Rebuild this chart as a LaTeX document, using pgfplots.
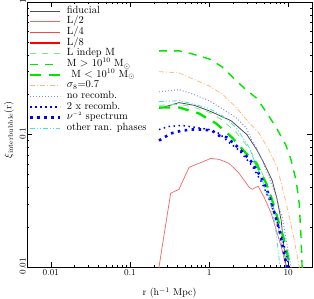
\documentclass[border=0pt]{standalone}
\usepackage{pgfplots}
\pgfplotsset{compat=1.18}
\definecolor{fidc}{RGB}{80,80,80}
\definecolor{lred}{RGB}{245,100,100}
\definecolor{mred}{RGB}{250,70,70}
\definecolor{dred}{RGB}{255,0,0}
\definecolor{lgreen}{RGB}{120,235,120}
\definecolor{mgreen}{RGB}{0,230,0}
\definecolor{lorange}{RGB}{255,185,135}
\definecolor{lblue}{RGB}{130,130,255}
\definecolor{mblue}{RGB}{0,0,255}
\definecolor{lcyan}{RGB}{70,225,225}
\begin{document}
\begin{tikzpicture}
\path[use as bounding box] (-27bp,-32bp) rectangle (287bp,267bp);
\begin{axis}[
  scale only axis, width=285bp, height=265bp,
  xmode=log, ymode=log,
  xmin=0.005, xmax=20, ymin=0.01, ymax=1,
  xtick={0.01,0.1,1,10}, xticklabels={0.01,0.1,1,10},
  ytick={0.01,0.1,1}, yticklabels={0.01,0.1,1},
  tick align=inside, tick pos=both,
  major tick length=5bp, minor tick length=2.5bp,
  every tick/.style={black, line width=0.4pt},
  axis line style={line width=0.5pt},
  tick label style={font=\fontsize{9}{9}\selectfont},
  yticklabel style={rotate=90, anchor=south, inner sep=1bp, xshift=1bp},
  xticklabel style={inner sep=2bp},
  xlabel={r (h$^{-1}$ Mpc)},
  xlabel style={font=\fontsize{10}{10}\selectfont, at={(rel axis cs:0.5,0)}, anchor=center, yshift=-26bp},
  legend cell align=left,
  legend style={draw=none, fill=none, at={(rel axis cs:0,1)}, anchor=north west,
    xshift=2bp, yshift=-3.5bp, inner sep=0pt, row sep=0pt, column sep=5bp,
    font=\fontsize{10.5}{10.5}\selectfont,
    nodes={inner sep=0pt, text height=7.5bp, text depth=3.17bp}},
  legend image code/.code={\draw[#1] (0bp,0bp) -- (30bp,0bp);},
]
% fiducial
\addplot[fidc, line width=0.8bp] coordinates {
(0.233,0.157)(0.417,0.174)(0.65,0.166)(1,0.151)(1.9,0.127)(3,0.100)(4.05,0.076)(5,0.060)(6.27,0.045)(7.2,0.033)(8.15,0.0225)(9.4,0.01)(9.8,0.008)};
\addlegendentry{fiducial}
% L/2
\addplot[lred, line width=0.7bp] coordinates {
(0.22,0.007)(0.233,0.01)(0.327,0.036)(0.417,0.0386)(0.558,0.0565)(0.747,0.0606)(1.05,0.066)(1.34,0.0649)(1.79,0.0606)(2.40,0.0509)(3.21,0.040)(3.5,0.0386)(4.17,0.0407)(4.97,0.0336)(6.09,0.0255)(7.26,0.018)(8.4,0.0134)(9.4,0.01)(9.8,0.008)};
\addlegendentry{L/2}
\addlegendimage{mred, line width=1.6bp}
\addlegendentry{L/4}
\addlegendimage{dred, line width=2.4bp}
\addlegendentry{L/8}
% L indep M
\addplot[lgreen, line width=0.8bp, dash pattern=on 6bp off 6bp] coordinates {
(0.233,0.166)(0.417,0.169)(0.61,0.162)(1,0.147)(1.46,0.129)(2.2,0.104)(3.21,0.078)(4.29,0.058)(5.74,0.038)(7.26,0.022)(8.4,0.014)(9.6,0.01)(10,0.008)};
\addlegendentry{L indep M}
% M > 1e10
\addplot[mgreen, line width=1.4bp, dash pattern=on 8bp off 7bp] coordinates {
(0.233,0.428)(0.417,0.428)(0.61,0.406)(1,0.372)(1.46,0.324)(2.2,0.255)(3.03,0.214)(4.05,0.187)(5.42,0.144)(7.05,0.113)(9.4,0.0826)(10.9,0.0638)(12.6,0.045)(13.8,0.030)(14.6,0.016)(15,0.01)(15.2,0.008)};
\addlegendentry{M $>$ 10$^{10}$ M$_\odot$}
% M < 1e10
\addplot[mgreen, line width=2.3bp, dash pattern=on 11bp off 8bp] coordinates {
(0.233,0.160)(0.417,0.160)(0.747,0.144)(1.23,0.121)(1.95,0.095)(2.94,0.072)(3.94,0.0606)(5.27,0.0429)(6.27,0.032)(7.26,0.0238)(8.9,0.016)(10.6,0.01)(11,0.008)};
\addlegendentry{\hspace{4.5bp}M $<$ 10$^{10}$ M$_\odot$}
% sigma8
\addplot[lorange, line width=0.8bp, dash pattern=on 5bp off 2bp on 1bp off 2bp] coordinates {
(0.233,0.298)(0.417,0.292)(0.61,0.264)(1,0.233)(1.46,0.203)(2.2,0.160)(3.21,0.123)(4.29,0.102)(5.74,0.076)(7.26,0.0565)(8.4,0.040)(9.7,0.0282)(11.6,0.0174)(13.8,0.01)(14.2,0.008)};
\addlegendentry{$\sigma_8$=0.7}
% no recomb
\addplot[lblue, line width=0.9bp, dash pattern=on 1bp off 2bp] coordinates {
(0.233,0.210)(0.417,0.218)(0.61,0.203)(1,0.180)(1.46,0.157)(2.2,0.134)(2.94,0.113)(3.5,0.090)(3.94,0.080)(4.69,0.064)(5.74,0.0475)(7.26,0.032)(8.4,0.0238)(10.9,0.01)(11.3,0.008)};
\addlegendentry{no recomb.}
% 2x recomb
\addplot[mblue, line width=1.5bp, dash pattern=on 1.5bp off 3.5bp] coordinates {
(0.233,0.109)(0.31,0.115)(0.455,0.117)(0.685,0.113)(1,0.109)(1.34,0.102)(1.79,0.087)(2.4,0.076)(3.5,0.058)(4.69,0.0429)(6.09,0.030)(7.7,0.0196)(8.9,0.0146)(10.3,0.01)(10.7,0.008)};
\addlegendentry{2 x recomb.}
% nu^-2
\addplot[mblue, line width=2.6bp, dash pattern=on 2.6bp off 4.4bp] coordinates {
(0.233,0.090)(0.33,0.102)(0.455,0.107)(0.61,0.109)(0.815,0.109)(1.09,0.107)(1.34,0.098)(1.69,0.095)(2.4,0.0786)(3.5,0.0615)(4.55,0.0475)(5.74,0.0347)(6.85,0.0246)(7.9,0.018)(9.4,0.0107)(9.7,0.01)(10,0.008)};
\addlegendentry{$\nu^{\scriptscriptstyle -2}$ spectrum}
% other random phases
\addplot[lcyan, line width=0.8bp, dash pattern=on 5bp off 2bp on 1bp off 2bp on 1bp off 2bp] coordinates {
(0.233,0.177)(0.417,0.180)(0.61,0.171)(1,0.157)(1.46,0.139)(2.2,0.113)(3.21,0.080)(4.29,0.051)(5.74,0.0336)(6.85,0.0207)(7.9,0.01)(8.1,0.008)};
\addlegendentry{other ran. phases}
\end{axis}
\node[rotate=90, anchor=center, inner sep=0pt, font=\fontsize{10}{10}\selectfont] at (-18bp,137bp) {$\xi_{\mathrm{interbubble}}(\mathrm{r})$};
\end{tikzpicture}
\end{document}
